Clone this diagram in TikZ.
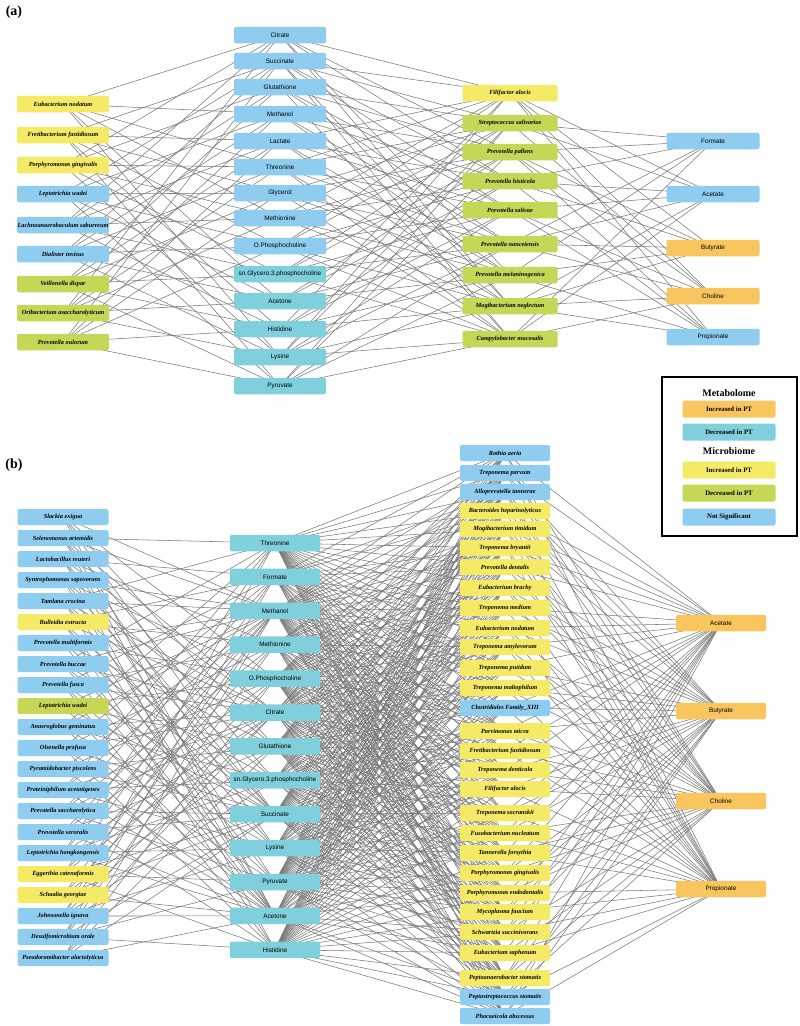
\documentclass[tikz,border=0pt]{standalone}
\usepackage{fontspec}
\setmainfont{Liberation Serif}
\newfontfamily\sansf{Liberation Sans}
\pgfdeclarelayer{paper}
\pgfdeclarelayer{edges}
\pgfsetlayers{paper,edges,main}
\definecolor{nsblue}{HTML}{8ECDEF}
\definecolor{decteal}{HTML}{80CFDC}
\definecolor{incorange}{HTML}{F9C55E}
\definecolor{micyellow}{HTML}{F5EA66}
\definecolor{micgreen}{HTML}{C6D656}
\definecolor{edgegray}{HTML}{7A7A7A}
\newcommand\micfont{\fontsize{6.3}{7}\selectfont\bfseries\itshape}
\newcommand\micfontb{\fontsize{6.3}{7}\selectfont\bfseries\itshape}
\newcommand\metfont{\sansf\fontsize{6.4}{7}\selectfont}
\tikzset{
  box/.style={rounded corners=2pt, minimum height=16.5pt, inner sep=0pt, text=black, draw=none},
  mic/.style={box, font=\micfont},
  micb/.style={box, font=\micfontb},
  met/.style={box, font=\metfont},
  edge/.style={draw=edgegray, line width=0.55pt},
  panellabel/.style={font=\fontsize{14}{16}\selectfont\bfseries, inner sep=0pt},
  legtitle/.style={font=\fontsize{10}{12}\selectfont\bfseries, inner sep=0pt},
  legbox/.style={box, minimum width=93pt, minimum height=17pt, font=\fontsize{6.8}{8}\selectfont\bfseries}
}
\begin{document}
\begin{tikzpicture}[x=1pt,y=-1pt]
\useasboundingbox (0,0) rectangle (800,1026);
\begin{pgfonlayer}{paper}
\fill[white] (0,0) rectangle (800,1026);
\end{pgfonlayer}

% ---------------- panel (a) ----------------
\node[panellabel] (la) at (14,12) {(a)};
\foreach \y/\t/\c [count=\i] in {
 104/Eubacterium nodatum/micyellow,
 135/Fretibacterium fastidiosum/micyellow,
 165/Porphyromonas gingivalis/micyellow,
 194/Leptotrichia wadei/nsblue,
 225/Lachnoanaerobaculum saburreum/nsblue,
 254/Dialister invisus/nsblue,
 284/Veillonella dispar/micgreen,
 313/Oribacterium asaccharolyticum/micgreen,
 342/Prevotella oulorum/micgreen}
 \node[mic, fill=\c, minimum width=92pt] (aL\i) at (63,\y) {\t};

\foreach \y/\t/\c [count=\i] in {
 35/Citrate/nsblue,
 61/Succinate/nsblue,
 87/Glutathione/nsblue,
 114/Methanol/nsblue,
 141/Lactate/nsblue,
 167/Threonine/nsblue,
 193/Glycerol/nsblue,
 218/Methionine/nsblue,
 246/O.Phosphocholine/nsblue,
 274/sn.Glycero.3.phosphocholine/decteal,
 301/Acetone/decteal,
 329/Histidine/decteal,
 357/Lysine/decteal,
 386/Pyruvate/decteal}
 \node[met, fill=\c, minimum width=92pt] (aM\i) at (280,\y) {\t};

\foreach \y/\t/\c [count=\i] in {
 93/Filifactor alocis/micyellow,
 123/Streptococcus salivarius/micgreen,
 152/Prevotella pallens/micgreen,
 181/Prevotella histicola/micgreen,
 210/Prevotella salivae/micgreen,
 244/Prevotella nanceiensis/micgreen,
 275/Prevotella melaninogenica/micgreen,
 306/Mogibacterium neglectum/micgreen,
 339/Campylobacter mucosalis/micgreen}
 \node[mic, fill=\c, minimum width=95pt] (aR\i) at (510,\y) {\t};

\foreach \y/\t/\c [count=\i] in {
 141/Formate/nsblue,
 194/Acetate/nsblue,
 248/Butyrate/incorange,
 296/Choline/incorange,
 337/Propionate/nsblue}
 \node[met, fill=\c, minimum width=93pt] (aF\i) at (713,\y) {\t};

% ---------------- panel (b) ----------------
\node[panellabel] (lb) at (14,465) {(b)};
\foreach \t/\c [count=\i] in {
 Slackia exigua/nsblue,
 Selenomonas artemidis/nsblue,
 Lactobacillus reuteri/nsblue,
 Syntrophomonas sapovorans/nsblue,
 Tamlana crocina/nsblue,
 Bulleidia extructa/micyellow,
 Prevotella multiformis/nsblue,
 Prevotella buccae/nsblue,
 Prevotella fusca/nsblue,
 Leptotrichia wadei/micgreen,
 Anaeroglobus geminatus/nsblue,
 Olsenella profusa/nsblue,
 Pyramidobacter piscolens/nsblue,
 Proteiniphilum acetatigenes/nsblue,
 Prevotella saccharolytica/nsblue,
 Prevotella veroralis/nsblue,
 Leptotrichia hongkongensis/nsblue,
 Eggerthia catenaformis/micyellow,
 Schaalia georgiae/micyellow,
 Johnsonella ignava/nsblue,
 Desulfomicrobium orale/nsblue,
 Pseudoramibacter alactolyticus/nsblue}
 \node[micb, fill=\c, minimum width=91pt, minimum height=16pt] (bL\i) at (63,{517+21*(\i-1)}) {\t};

\foreach \t [count=\i] in {Threonine,Formate,Methanol,Methionine,O.Phosphocholine,Citrate,Glutathione,sn.Glycero.3.phosphocholine,Succinate,Lysine,Pyruvate,Acetone,Histidine}
 \node[met, fill=decteal, minimum width=90pt] (bM\i) at (275,{543+33.9*(\i-1)}) {\t};

\foreach \y/\t/\c [count=\i] in {
 453/Rothia aeria/nsblue,
 473/Treponema parvum/nsblue,
 492/Alloprevotella tannerae/nsblue,
 511/Bacteroides heparinolyticus/micyellow,
 529/Mogibacterium timidum/micyellow,
 548/Treponema bryantii/micyellow,
 567/Prevotella dentalis/micyellow,
 588/Eubacterium brachy/micyellow,
 608/Treponema medium/micyellow,
 628/Eubacterium nodatum/micyellow,
 647/Treponema amylovorum/micyellow,
 668/Treponema putidum/micyellow,
 688/Treponema maltophilum/micyellow,
 708/Clostridiales Family\_XIII/nsblue,
 731/Parvimonas micra/micyellow,
 751/Fretibacterium fastidiosum/micyellow,
 770/Treponema denticola/micyellow,
 789/Filifactor alocis/micyellow,
 813/Treponema socranskii/micyellow,
 833/Fusobacterium nucleatum/micyellow,
 853/Tannerella forsythia/micyellow,
 873/Porphyromonas gingivalis/micyellow,
 893/Porphyromonas endodontalis/micyellow,
 912/Mycoplasma faucium/micyellow,
 932/Schwartzia succinivorans/micyellow,
 953/Eubacterium saphenum/micyellow,
 978/Peptoanaerobacter stomatis/micyellow,
 997/Peptostreptococcus stomatis/nsblue,
 1016/Phocaeicola abscessus/nsblue}
 \node[micb, fill=\c, minimum width=90pt, minimum height=16pt] (bR\i) at (505,\y) {\t};

\foreach \y/\t [count=\i] in {623/Acetate,711/Butyrate,801/Choline,889/Propionate}
 \node[met, fill=incorange, minimum width=90pt] (bF\i) at (721,\y) {\t};

% ---------------- legend ----------------
\node[draw=black, fill=white, line width=2pt, minimum width=135pt, minimum height=159pt, inner sep=0pt] (leg) at (729,456) {};
\node[legtitle] (lt1) at (729,393) {Metabolome};
\node[legbox, fill=incorange] (lg1) at (729,409) {Increased in PT};
\node[legbox, fill=decteal] (lg2) at (729,432) {Decreased in PT};
\node[legtitle] (lt2) at (729,451) {Microbiome};
\node[legbox, fill=micyellow] (lg3) at (729,470) {Increased in PT};
\node[legbox, fill=micgreen] (lg4) at (729,493) {Decreased in PT};
\node[legbox, fill=nsblue] (lg5) at (729,517) {Not Significant};

% ---------------- edges ----------------
\begin{pgfonlayer}{edges}
\foreach \i in {1,...,9}{\foreach \j in {1,...,14}{
  \pgfmathtruncatemacro\r{mod(\i*4+\j*3,7)}
  \ifnum\r<3 \draw[edge] (aL\i.center) -- (aM\j.center);\fi}}
\foreach \i in {1,...,14}{\foreach \j in {1,...,9}{
  \pgfmathtruncatemacro\r{mod(\i*2+\j*5,7)}
  \ifnum\r<4 \draw[edge] (aM\i.center) -- (aR\j.center);\fi}}
\foreach \i in {1,...,9}{\foreach \j in {1,...,5}{
  \pgfmathtruncatemacro\r{mod(\i*2+\j*3,7)}
  \ifnum\r<5 \draw[edge] (aR\i.center) -- (aF\j.center);\fi}}
\foreach \i in {1,...,22}{\foreach \j in {1,...,13}{
  \pgfmathtruncatemacro\r{mod(\i*3+\j*5,9)}
  \ifnum\r<4 \draw[edge] (bL\i.center) -- (bM\j.center);\fi}}
\foreach \i in {1,...,13}{\foreach \j in {1,...,29}{
  \pgfmathtruncatemacro\r{mod(\i+\j*2,6)}
  \ifnum\r>0 \draw[edge] (bM\i.center) -- (bR\j.center);\fi}}
\foreach \i in {1,...,29}{\foreach \j in {1,...,4}{
  \pgfmathtruncatemacro\r{mod(\i*3+\j,5)}
  \ifnum\r>0 \draw[edge] (bR\i.center) -- (bF\j.center);\fi}}
\end{pgfonlayer}
\end{tikzpicture}
\end{document}
